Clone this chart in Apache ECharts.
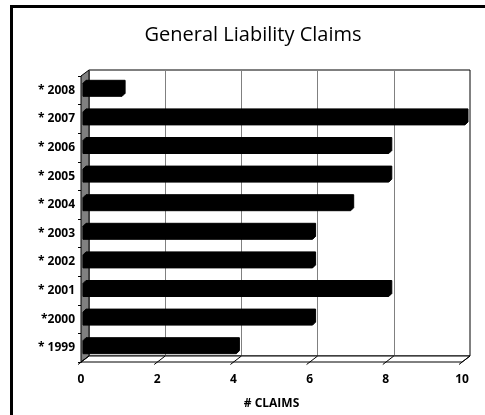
<!DOCTYPE html>
<html><head><meta charset="utf-8">
<script src="https://cdn.jsdelivr.net/npm/echarts@6/dist/echarts.min.js"></script>
<style>html,body{margin:0;padding:0;background:#fff}#c{width:485px;height:415px}</style>
</head><body><div id="c"></div>
<script>
// General liability claims per year (bottom to top)
const years = ['* 1999', '*2000', '* 2001', '* 2002', '* 2003', '* 2004', '* 2005', '* 2006', '* 2007', '* 2008'];
const claims = [4, 6, 8, 6, 6, 7, 8, 8, 10, 1];
const xTicks = [0, 2, 4, 6, 8, 10];
const titleText = 'General Liability Claims';
const axisTitle = '# CLAIMS';

// 3D depth offset between the front plane and the back wall
const DX = 8, DY = -6;
const FONT = 'Open Sans';

const chart = echarts.init(document.getElementById('c'), null, { renderer: 'canvas' });

chart.setOption({
  animation: false,
  backgroundColor: '#fff',
  textStyle: { fontFamily: FONT },
  graphic: [
    { type: 'rect', z: 100, shape: { x: 11.5, y: 6.5, width: 490, height: 420 },
      style: { fill: 'none', stroke: '#000', lineWidth: 3 } },
    { type: 'text', z: 100, x: 253, y: 35,
      style: { text: titleText, fill: '#000', font: '20px "' + FONT + '"', textAlign: 'center', textVerticalAlign: 'middle' } }
  ],
  grid: [
    // back wall
    { left: 89, right: 15, top: 70, bottom: 59, show: true, backgroundColor: '#fff', borderColor: '#000', borderWidth: 1, z: 0 },
    // front plane
    { left: 81, right: 23, top: 76, bottom: 53 }
  ],
  xAxis: [
    { gridIndex: 0, type: 'value', min: 0, max: 10, interval: 2,
      axisLine: { show: false }, axisTick: { show: false }, axisLabel: { show: false },
      splitLine: { show: true, lineStyle: { color: '#808080', width: 1 } } },
    { gridIndex: 1, type: 'value', min: 0, max: 10, interval: 2, position: 'bottom',
      axisLine: { show: false }, axisTick: { show: false }, splitLine: { show: false },
      axisLabel: { color: '#000', fontWeight: 'bold', fontSize: 12, margin: 12, fontFamily: FONT },
      name: axisTitle, nameLocation: 'middle', nameGap: 36,
      nameTextStyle: { color: '#000', fontWeight: 'bold', fontSize: 12, fontFamily: FONT } }
  ],
  yAxis: [
    { gridIndex: 0, type: 'category', data: years, show: false },
    { gridIndex: 1, type: 'category', data: years,
      axisLine: { show: true, lineStyle: { color: '#000', width: 1 } },
      axisTick: { show: true, length: 3, lineStyle: { color: '#000' } },
      axisLabel: { color: '#000', fontWeight: 'bold', fontSize: 12, margin: 6, fontFamily: FONT },
      splitLine: { show: false } }
  ],
  series: [
    {
      // side wall, floor and slanted floor ticks
      type: 'custom', xAxisIndex: 1, yAxisIndex: 1, z: 2, silent: true,
      data: [[0, 0]],
      renderItem: function (params, api) {
        const cs = params.coordSys;
        const x0 = cs.x, y0 = cs.y, x1 = cs.x + cs.width, y1 = cs.y + cs.height;
        const children = [
          { type: 'polygon', shape: { points: [[x0, y0], [x0 + DX, y0 + DY], [x0 + DX, y1 + DY], [x0, y1]] },
            style: { fill: '#808080', stroke: '#000', lineWidth: 1 } },
          { type: 'polygon', shape: { points: [[x0, y1], [x0 + DX, y1 + DY], [x1 + DX, y1 + DY], [x1, y1]] },
            style: { fill: '#fff', stroke: '#000', lineWidth: 1 } }
        ];
        xTicks.forEach(function (t) {
          const p = api.coord([t, 0]);
          children.push({ type: 'line',
            shape: { x1: p[0] - 3, y1: y1 + 2.5, x2: p[0] + DX, y2: y1 + DY },
            style: { stroke: '#000', lineWidth: 1 } });
        });
        return { type: 'group', children: children };
      }
    },
    {
      // 3D bars: front face plus top and end faces, all in black
      type: 'custom', xAxisIndex: 1, yAxisIndex: 1, z: 3,
      data: claims.map(function (v, i) { return [v, i]; }),
      encode: { x: 0, y: 1 },
      renderItem: function (params, api) {
        const p = api.coord([api.value(0), api.value(1)]);
        const p0 = api.coord([0, api.value(1)]);
        const c = p[1];
        const xl = p0[0] + 2, xr = p[0] + 3, d = 3;
        const top = c - 7, bot = c + 6;
        return { type: 'polygon',
          shape: { points: [[xl, bot], [xr, bot], [xr + d, bot - d], [xr + d, top - d], [xl + d, top - d], [xl, top]] },
          style: { fill: '#000', stroke: '#000', lineWidth: 1 } };
      }
    }
  ]
});
</script>
</body></html>
